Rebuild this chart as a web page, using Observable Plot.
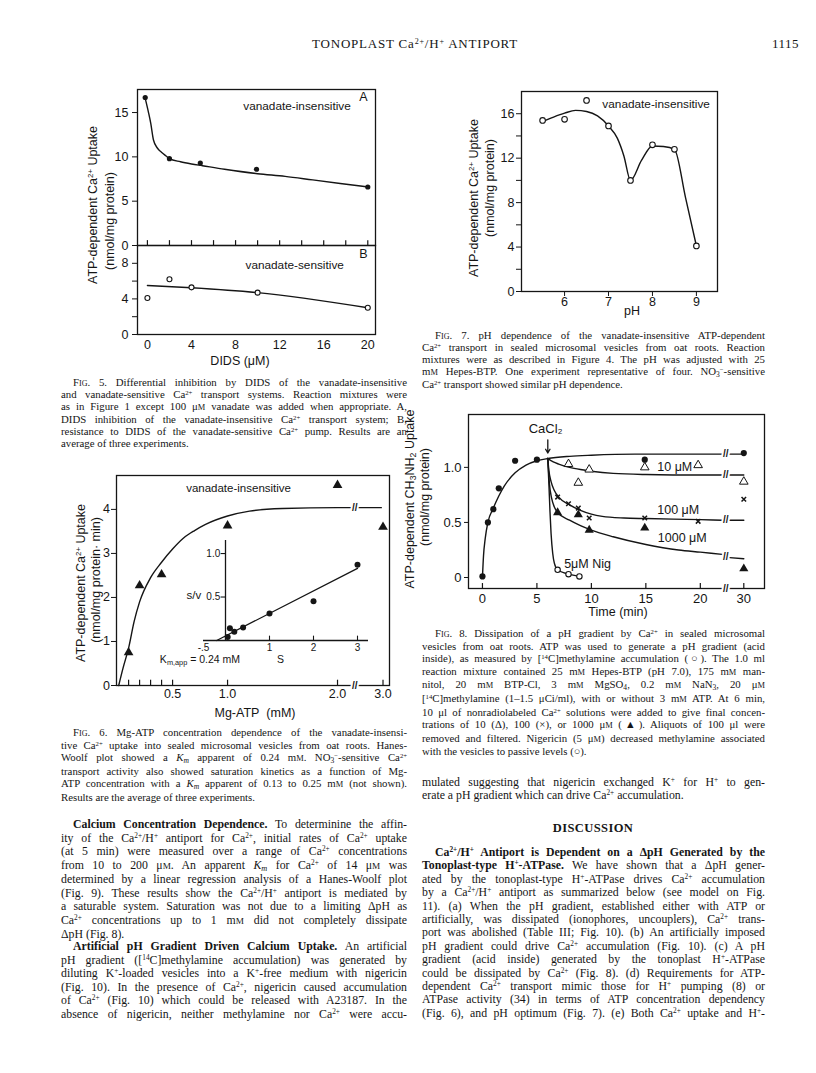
<!DOCTYPE html>
<html><head><meta charset="utf-8">
<script src="https://cdn.jsdelivr.net/npm/d3@7"></script>
<script src="https://cdn.jsdelivr.net/npm/@observablehq/plot@0.6"></script>
<style>
body{margin:0;background:#fff;}
#page{position:relative;width:816px;height:1073px;overflow:hidden;background:#fff;color:#151515;}
.serif{font-family:"Liberation Serif","Times New Roman",serif;}
.sans{font-family:"Liberation Sans",Arial,Helvetica,sans-serif;}
.blk{position:absolute;}
.j{text-align:justify;text-align-last:justify;}
.l{text-align:left;text-align-last:left;}
sup{font-size:0.62em;vertical-align:0.5em;line-height:0;}
sub{font-size:0.7em;vertical-align:-0.25em;line-height:0;}
.sc{font-size:0.78em;}
.fig{font-variant:small-caps;}
.rot{position:absolute;transform:translate(-50%,-50%) rotate(-90deg);white-space:nowrap;}
.ctr{position:absolute;transform:translate(-50%,-50%);white-space:nowrap;}
</style></head><body><div id="page"></div>
<script>
// ---------- DATA ----------
// Fig 5A: DIDS (µM) vs vanadate-insensitive uptake
const f5aPtsX = [-0.2, 2, 4.8, 9.9, 20];
const f5aPtsY = [16.7, 9.8, 9.3, 8.6, 6.6];
const f5aFitX = [-0.2, 0.1, 0.3, 0.55, 0.9, 1.3, 1.7, 2, 3, 4, 5, 7, 10, 12.5, 15, 17.5, 20];
const f5aFitY = [16.6, 15.0, 13.8, 11.9, 11.0, 10.5, 10.1, 9.8, 9.45, 9.2, 9.0, 8.6, 8.1, 7.8, 7.4, 7.0, 6.6];
// Fig 5B: vanadate-sensitive
const f5bPtsX = [0, 2, 4, 10, 20];
const f5bPtsY = [4.1, 6.2, 5.3, 4.7, 3.0];
const f5bFitX = [0, 4, 10, 20];
const f5bFitY = [5.5, 5.25, 4.7, 3.0];
const f5xTicks = [0, 2, 4, 6, 8, 10, 12, 14, 16, 18, 20];
const f5xLabels = [0, 4, 8, 12, 16, 20];
const f5aYTicks = [0, 5, 10, 15];
const f5bYTicks = [0, 2, 4, 6, 8];

// Fig 7: pH dependence
const f7PtsX = [5.5, 6, 6.5, 7, 7.5, 8, 8.5, 9];
const f7PtsY = [15.4, 15.5, 17.2, 14.9, 10.0, 13.2, 12.8, 4.1];
const f7FitX = [5.5, 5.75, 6, 6.25, 6.5, 6.75, 7, 7.2, 7.35, 7.5, 7.75, 8, 8.25, 8.5, 8.75, 9];
const f7FitY = [15.3, 15.7, 16.05, 16.3, 16.2, 15.8, 14.9, 13.8, 12.2, 10.0, 11.8, 13.1, 13.05, 12.8, 8.5, 4.1];
const f7XTicks = [6, 7, 8, 9];
const f7YTicks = [0, 2, 4, 6, 8, 10, 12, 14, 16];

// Fig 6: Mg-ATP (mM) vs uptake
const f6PtsX = [0.1, 0.2, 0.4, 1.0, 2.0, 3.0];
const f6PtsY = [0.75, 2.27, 2.52, 3.63, 4.55, 3.6];
const f6FitX = [0.01, 0.05, 0.1, 0.15, 0.2, 0.3, 0.4, 0.5, 0.6, 0.7, 0.8, 1.0, 1.2, 1.5, 2.0, 2.1, 2.25, 2.6, 2.95];
const f6FitY = [0, 0.4, 0.85, 1.45, 1.9, 2.45, 2.8, 3.1, 3.35, 3.52, 3.66, 3.85, 3.96, 4.02, 4.04, 4.04, 4.04, 4.04, 4.04];
const f6XTicks = [0.1, 0.2, 0.3, 0.4, 0.5, 1.0, 2.0, 3.0];
const f6XLabels = [0.5, 1.0, 2.0, 3.0];
const f6YTicks = [0, 1, 2, 3, 4];
// Fig 6 inset: Hanes-Woolf (S vs S/v)
const hwX = [0.05, 0.1, 0.2, 0.4, 1, 2, 3];
const hwY = [0.04, 0.14, 0.1, 0.15, 0.31, 0.45, 0.87];
const hwFitX = [-0.2, 3.0];
const hwFitY = [0, 0.83];
const hwXLabels = ["-.5", "1", "2", "3"];
const hwXLabelPos = [-0.5, 1, 2, 3];
const hwYLabels = ["0.5", "1.0"];
const hwYLabelPos = [0.5, 1.0];

// Fig 8: time (min) vs CH3NH2 uptake
const ctlX = [0, 0.5, 1, 1.5, 3, 5, 14.9, 30];
const ctlY = [0.01, 0.5, 0.62, 0.81, 1.06, 1.07, 1.07, 1.13];
const ctlFitX = [0, 0.1, 0.25, 0.5, 1, 1.5, 2, 3, 4, 5, 6, 8, 10, 14, 22, 28.7, 30];
const ctlFitY = [0, 0.2, 0.35, 0.5, 0.63, 0.74, 0.83, 0.95, 1.02, 1.06, 1.08, 1.1, 1.11, 1.12, 1.12, 1.12, 1.12];
const c10X = [7.9, 8.8, 9.8, 14.9, 19.8, 30];
const c10Y = [1.03, 0.86, 0.98, 1.0, 1.02, 0.87];
const c10FitX = [6, 6.5, 7, 8, 9, 10, 12, 15, 20, 22, 28.7, 30];
const c10FitY = [1.08, 1.05, 1.03, 1.0, 0.98, 0.965, 0.945, 0.935, 0.93, 0.93, 0.93, 0.93];
const c100X = [6.9, 7.9, 8.8, 9.8, 14.9, 19.8, 30];
const c100Y = [0.73, 0.67, 0.63, 0.54, 0.54, 0.51, 0.71];
const c100FitX = [6, 6.1, 6.3, 6.6, 7, 8, 9, 10, 11, 13, 15, 20, 22, 28.7, 30];
const c100FitY = [1.08, 0.97, 0.87, 0.79, 0.73, 0.66, 0.61, 0.575, 0.555, 0.54, 0.535, 0.525, 0.52, 0.52, 0.52];
const c1000X = [6.9, 8.8, 9.8, 14.9, 30];
const c1000Y = [0.59, 0.57, 0.43, 0.45, 0.08];
const c1000FitX = [6, 6.15, 6.35, 6.6, 6.9, 8, 9, 10, 12, 15, 18, 20, 22, 28.7, 30];
const c1000FitY = [1.08, 0.85, 0.72, 0.64, 0.59, 0.52, 0.47, 0.43, 0.37, 0.3, 0.25, 0.23, 0.21, 0.18, 0.17];
const nigX = [6.9, 7.9, 8.9];
const nigY = [0.07, 0.03, 0.01];
const nigFitX = [6, 6.1, 6.2, 6.3, 6.45, 6.6, 6.9, 7.9, 8.9];
const nigFitY = [1.08, 0.85, 0.6, 0.4, 0.22, 0.13, 0.07, 0.03, 0.01];
const f8XTicks = [0, 5, 10, 15, 20, 30];
const f8YTicks = [0, 0.5, 1.0];
const f8BreakYs = [-0.1, 1.12, 0.93, 0.52, 0.19];

// ---------- HELPERS ----------
const page = document.getElementById('page');
const SANS = '"Liberation Sans", Arial, Helvetica, sans-serif';
const INK = '#151515';
const zipXY = (xs, ys) => xs.map((x, i) => ({x, y: ys[i]}));
function put(node, left, top) {
  node.style.position = 'absolute';
  node.style.left = left + 'px';
  node.style.top = top + 'px';
  page.appendChild(node);
}
const st = fs => ({fontFamily: SANS, fontSize: fs + 'px', background: 'transparent', color: INK, overflow: 'visible'});
function html(cls, h, cx, cy, fs, extra = '') {
  const d = document.createElement('div');
  d.className = cls + ' sans';
  d.style.cssText += `left:${cx}px;top:${cy}px;font-size:${fs}px;${extra}`;
  d.innerHTML = h;
  page.appendChild(d);
}
function block(left, top, width, fs, lh, indent, lines, last) {
  const w = document.createElement('div');
  w.className = 'blk serif';
  w.style.cssText = `left:${left}px;top:${top}px;width:${width}px;font-size:${fs}px;line-height:${lh}px;`;
  const j = document.createElement('div');
  j.className = 'j';
  j.style.textIndent = indent + 'px';
  j.innerHTML = lines.join('<br>');
  w.appendChild(j);
  if (last) {
    const l = document.createElement('div');
    l.className = 'l';
    l.innerHTML = last;
    w.appendChild(l);
  }
  page.appendChild(w);
}
const txt = (s, o) => Plot.text([s], {text: d => d, ...o});
const brkMarks = (pts, fs) => [
  Plot.text(pts, {x: 'x', y: 'y', text: () => '//', fontSize: fs, fontWeight: 'bold', fill: 'white', stroke: 'white', strokeWidth: 4}),
  Plot.text(pts, {x: 'x', y: 'y', text: () => '//', fontSize: fs, fontWeight: 'bold', fill: INK})
];

// broken-axis mappings (value -> axis position units)
const b6 = v => v <= 2.15 ? v : 2.15 + (v - 2.15) * 0.3102;
const ub6 = u => u <= 2.15 ? u : 2.15 + (u - 2.15) / 0.3102;
const b8 = v => v <= 22.3 ? v : v < 28.4 ? 22.3 + (v - 22.3) * 0.0151 : v - 6.008;
const ub8 = u => u <= 22.3 ? u : u >= 22.392 ? u + 6.008 : 22.3 + (u - 22.3) / 0.0151;

// ---------- FIG 5A ----------
put(Plot.plot({
  width: 300, height: 170, marginLeft: 47, marginRight: 15, marginTop: 9, marginBottom: 5,
  style: st(12.5),
  x: {domain: [-0.9, 20.7], axis: null},
  y: {domain: [0, 17.6], ticks: f5aYTicks, tickFormat: d => String(d), tickSize: 5, tickPadding: 4, label: null},
  marks: [
    Plot.frame({stroke: INK, strokeWidth: 1.3}),
    Plot.ruleX(f5xTicks, {x: d => d, y1: 0, y2: 0.55, stroke: INK, strokeWidth: 1.2}),
    Plot.line(zipXY(f5aFitX, f5aFitY), {x: 'x', y: 'y', curve: 'monotone-x', stroke: INK, strokeWidth: 1.4}),
    Plot.dot(zipXY(f5aPtsX, f5aPtsY), {x: 'x', y: 'y', r: 2.6, fill: INK, stroke: 'none'}),
    txt('vanadate-insensitive', {x: 8.7, y: 15.7, textAnchor: 'start', fontSize: 11.8}),
    txt('A', {x: 19.6, y: 16.7, fontSize: 12.5})
  ]
}), 90, 80);

// ---------- FIG 5B ----------
put(Plot.plot({
  width: 300, height: 130, marginLeft: 47, marginRight: 15, marginTop: 5, marginBottom: 36,
  style: st(12.5),
  x: {domain: [-0.9, 20.7], ticks: f5xLabels, tickFormat: d => String(d), tickSize: 0, tickPadding: 6, label: null},
  y: {domain: [0, 10], ticks: f5bYTicks, tickFormat: d => d % 4 === 0 ? String(d) : '', tickSize: 5, tickPadding: 4, label: null},
  marks: [
    Plot.frame({stroke: INK, strokeWidth: 1.3}),
    Plot.line(zipXY(f5bFitX, f5bFitY), {x: 'x', y: 'y', curve: 'monotone-x', stroke: INK, strokeWidth: 1.4}),
    Plot.dot(zipXY(f5bPtsX, f5bPtsY), {x: 'x', y: 'y', r: 2.5, fill: 'white', stroke: INK, strokeWidth: 1.1}),
    txt('vanadate-sensitive', {x: 8.9, y: 7.75, textAnchor: 'start', fontSize: 11.8}),
    txt('B', {x: 19.6, y: 9.1, fontSize: 12.5})
  ]
}), 90, 240);
html('rot', 'ATP-dependent Ca<sup>2+</sup> Uptake', 93, 205, 12.5);
html('rot', '(nmol/mg protein)', 110, 221, 12.5);
html('ctr', 'DIDS (μM)', 240, 361, 12.5);

// ---------- FIG 7 ----------
put(Plot.plot({
  width: 260, height: 240, marginLeft: 41, marginRight: 23, marginTop: 11, marginBottom: 29,
  style: st(12.5),
  x: {domain: [5.02, 9.48], ticks: f7XTicks, tickFormat: d => String(d), tickSize: 5, tickPadding: 1, label: null},
  y: {domain: [0, 18], ticks: f7YTicks, tickFormat: d => d % 4 === 0 ? String(d) : '', tickSize: 5, tickPadding: 2, label: null},
  marks: [
    Plot.frame({stroke: INK, strokeWidth: 1.3}),
    Plot.line(zipXY(f7FitX, f7FitY), {x: 'x', y: 'y', curve: 'monotone-x', stroke: INK, strokeWidth: 1.4}),
    Plot.dot(zipXY(f7PtsX, f7PtsY), {x: 'x', y: 'y', r: 2.8, fill: 'white', stroke: INK, strokeWidth: 1.1}),
    txt('vanadate-insensitive', {x: 6.86, y: 16.9, textAnchor: 'start', fontSize: 11.8})
  ]
}), 480, 80);
html('rot', 'ATP-dependent Ca<sup>2+</sup> Uptake', 474, 198, 12.5);
html('rot', '(nmol/mg protein)', 490, 188, 12.5);
html('ctr', 'pH', 632, 311, 12.5);

// ---------- FIG 6 ----------
put(Plot.plot({
  width: 340, height: 245, marginLeft: 56, marginRight: 11, marginTop: 10, marginBottom: 25,
  style: st(12.5),
  x: {domain: [-0.01, 2.4727], ticks: f6XLabels.map(b6), tickFormat: u => (Math.round(ub6(u) * 10) / 10).toFixed(1), tickSize: 0, tickPadding: 4, label: null},
  y: {domain: [0, 4.77], ticks: f6YTicks, tickFormat: d => String(d), tickSize: 5, tickPadding: 1.5, label: null},
  marks: [
    Plot.frame({stroke: INK, strokeWidth: 1.3}),
    Plot.ruleX(f6XTicks, {x: d => b6(d), y1: 0, y2: 0.12, stroke: INK, strokeWidth: 1.2}),
    Plot.line(zipXY(f6FitX, f6FitY), {x: d => b6(d.x), y: 'y', curve: 'monotone-x', stroke: INK, strokeWidth: 1.4}),
    ...brkMarks([{x: b6(2.17), y: 4.04}, {x: b6(2.17), y: 0}], 10),
    Plot.dot(zipXY(f6PtsX, f6PtsY), {x: d => b6(d.x), y: 'y', symbol: 'triangle', r: 3.6, fill: INK, stroke: 'none'}),
    txt('vanadate-insensitive', {x: 1.1, y: 4.48, fontSize: 11.5})
  ]
}), 60, 465);
// inset
put(Plot.plot({
  width: 230, height: 140, marginLeft: 53, marginRight: 12, marginTop: 10, marginBottom: 30,
  style: st(11),
  x: {domain: [-0.5, 3.25], axis: null},
  y: {domain: [0, 1.15], axis: null},
  marks: [
    Plot.ruleY([0], {stroke: INK, strokeWidth: 1.3}),
    Plot.ruleX([0], {stroke: INK, strokeWidth: 1.3}),
    Plot.ruleY(hwYLabelPos, {y: d => d, x1: -0.1, x2: 0, stroke: INK, strokeWidth: 1.1}),
    Plot.ruleX([1, 2, 3], {x: d => d, y1: 0, y2: 0.05, stroke: INK, strokeWidth: 1.1}),
    Plot.text(hwXLabelPos, {x: d => d, y: -0.085, text: (d, i) => hwXLabels[i], fontSize: 10}),
    Plot.text(hwYLabelPos, {x: -0.12, y: d => d, text: (d, i) => hwYLabels[i], textAnchor: 'end', fontSize: 10}),
    Plot.line(zipXY(hwFitX, hwFitY), {x: 'x', y: 'y', stroke: INK, strokeWidth: 1.3}),
    Plot.dot(zipXY(hwX, hwY), {x: 'x', y: 'y', r: 3, fill: INK, stroke: 'none'}),
    txt('s/v', {x: -0.72, y: 0.52, fontSize: 11.5}),
    txt('S', {x: 1.25, y: -0.22, fontSize: 10.5})
  ]
}), 150, 530);
html('ctr', 'K<sub>m,app</sub> = 0.24 mM', 200, 659, 10.5);
html('rot', 'ATP-dependent Ca<sup>2+</sup> Uptake', 81, 583, 12.5);
html('rot', '(nmol/mg protein· min)', 95.5, 580, 12.5);
html('ctr', 'Mg-ATP&nbsp;&nbsp;(mM)', 255, 713, 12.5);

// ---------- FIG 8 ----------
const seg = d => d.x > 25 ? 'b' : 'a';
const fitLine = (xs, ys) => Plot.line(zipXY(xs, ys), {x: d => b8(d.x), y: 'y', z: seg, curve: 'monotone-x', stroke: INK, strokeWidth: 1.4});
put(Plot.plot({
  width: 340, height: 220, marginLeft: 38, marginRight: 6, marginTop: 9, marginBottom: 37,
  style: st(13),
  x: {domain: [-1.28, 25.892], ticks: f8XTicks.map(b8), tickFormat: u => String(Math.round(ub8(u))), tickSize: 0, tickPadding: 5, label: null},
  y: {domain: [-0.1, 1.48], ticks: f8YTicks, tickFormat: d => d === 0 ? '0' : d.toFixed(1), tickSize: 4, tickPadding: 3, label: null},
  marks: [
    Plot.frame({stroke: INK, strokeWidth: 1.3}),
    Plot.ruleX(f8XTicks, {x: d => b8(d), y1: -0.1, y2: -0.055, stroke: INK, strokeWidth: 1.2}),
    fitLine(ctlFitX, ctlFitY),
    fitLine(c10FitX, c10FitY),
    fitLine(c100FitX, c100FitY),
    fitLine(c1000FitX, c1000FitY),
    Plot.line(zipXY(nigFitX, nigFitY), {x: d => b8(d.x), y: 'y', curve: 'monotone-x', stroke: INK, strokeWidth: 1.4}),
    ...brkMarks(f8BreakYs.map(y => ({x: b8(25), y})), 10),
    Plot.dot(zipXY(ctlX, ctlY), {x: d => b8(d.x), y: 'y', r: 3.1, fill: INK, stroke: 'none'}),
    Plot.dot(zipXY(c10X, c10Y), {x: d => b8(d.x), y: 'y', symbol: 'triangle', r: 3.2, fill: 'white', stroke: INK, strokeWidth: 1}),
    Plot.dot(zipXY(c100X, c100Y), {x: d => b8(d.x), y: 'y', symbol: 'times', r: 2.2, stroke: INK, strokeWidth: 1.5}),
    Plot.dot(zipXY(c1000X, c1000Y), {x: d => b8(d.x), y: 'y', symbol: 'triangle', r: 3.4, fill: INK, stroke: 'none'}),
    Plot.dot(zipXY(nigX, nigY), {x: d => b8(d.x), y: 'y', r: 2.7, fill: 'white', stroke: INK, strokeWidth: 1.1}),
    Plot.arrow([0], {x1: 6, y1: 1.25, x2: 6, y2: 1.13, stroke: INK, strokeWidth: 1.3, headLength: 7}),
    txt('CaCl₂', {x: 5.8, y: 1.35, fontSize: 13}),
    txt('10 μM', {x: 16.05, y: 1.0, textAnchor: 'start', fontSize: 12.5}),
    txt('100 μM', {x: 16.05, y: 0.61, textAnchor: 'start', fontSize: 12.5}),
    txt('1000 μM', {x: 16.1, y: 0.355, textAnchor: 'start', fontSize: 12.5}),
    txt('5μM Nig', {x: 7.5, y: 0.12, textAnchor: 'start', fontSize: 12.5})
  ]
}), 430, 405);
html('rot', 'ATP-dependent CH<sub>3</sub>NH<sub>2</sub> Uptake', 410, 499, 12.5);
html('rot', '(nmol/mg protein)', 425, 497, 12.5);
html('ctr', 'Time (min)', 618, 612, 12.5);

// ---------- TEXT ----------
const mM = 'm<span class="sc">M</span>';
const uM = 'μ<span class="sc">M</span>';
const Ca = 'Ca<sup>2+</sup>';
const FIG = '<span class="fig">Fig</span>.';
html('blk', '<span class="serif" style="letter-spacing:0.8px">TONOPLAST ' + Ca + '/H<sup>+</sup> ANTIPORT</span>', 312, 36, 13);
html('blk', '<span class="serif" style="letter-spacing:0.5px">1115</span>', 772, 36, 13);

block(61, 377, 346, 10.8, 11.9, 12, [
  FIG + ' 5. Differential inhibition by DIDS of the vanadate-insensitive',
  'and vanadate-sensitive ' + Ca + ' transport systems. Reaction mixtures were',
  'as in Figure 1 except 100 ' + uM + ' vanadate was added when appropriate. A,',
  'DIDS inhibition of the vanadate-insensitive ' + Ca + ' transport system; B,',
  'resistance to DIDS of the vanadate-sensitive ' + Ca + ' pump. Results are an'
], 'average of three experiments.');

block(422, 329, 343, 10.8, 12, 13, [
  FIG + ' 7. pH dependence of the vanadate-insensitive ATP-dependent',
  Ca + ' transport in sealed microsomal vesicles from oat roots. Reaction',
  'mixtures were as described in Figure 4. The pH was adjusted with 25',
  mM + ' Hepes-BTP. One experiment representative of four. NO<sub>3</sub><sup>−</sup>-sensitive'
], Ca + ' transport showed similar pH dependence.');

block(61, 726, 346, 10.8, 12.6, 12, [
  FIG + ' 6. Mg-ATP concentration dependence of the vanadate-insensi-',
  'tive ' + Ca + ' uptake into sealed microsomal vesicles from oat roots. Hanes-',
  'Woolf plot showed a <i>K<sub>m</sub></i> apparent of 0.24 ' + mM + '. NO<sub>3</sub><sup>−</sup>-sensitive ' + Ca,
  'transport activity also showed saturation kinetics as a function of Mg-',
  'ATP concentration with a <i>K<sub>m</sub></i> apparent of 0.13 to 0.25 ' + mM + ' (not shown).'
], 'Results are the average of three experiments.');

block(422, 627, 343, 10.8, 12.6, 13, [
  FIG + ' 8. Dissipation of a pH gradient by ' + Ca + ' in sealed microsomal',
  'vesicles from oat roots. ATP was used to generate a pH gradient (acid',
  'inside), as measured by [<sup>14</sup>C]methylamine accumulation (○). The 1.0 ml',
  'reaction mixture contained 25 ' + mM + ' Hepes-BTP (pH 7.0), 175 ' + mM + ' man-',
  'nitol, 20 ' + mM + ' BTP-Cl, 3 ' + mM + ' MgSO<sub>4</sub>, 0.2 ' + mM + ' NaN<sub>3</sub>, 20 ' + uM,
  '[<sup>14</sup>C]methylamine (1–1.5 μCi/ml), with or without 3 ' + mM + ' ATP. At 6 min,',
  '10 μl of nonradiolabeled ' + Ca + ' solutions were added to give final concen-',
  'trations of 10 (Δ), 100 (×), or 1000 ' + uM + ' (▲). Aliquots of 100 μl were',
  'removed and filtered. Nigericin (5 ' + uM + ') decreased methylamine associated'
], 'with the vesicles to passive levels (○).');

block(61, 818, 346, 11.8, 13.5, 12, [
  '<b>Calcium Concentration Dependence.</b> To determinine the affin-',
  'ity of the ' + Ca + '/H<sup>+</sup> antiport for ' + Ca + ', initial rates of ' + Ca + ' uptake',
  '(at 5 min) were measured over a range of ' + Ca + ' concentrations',
  'from 10 to 200 ' + uM + '. An apparent <i>K<sub>m</sub></i> for ' + Ca + ' of 14 ' + uM + ' was',
  'determined by a linear regression analysis of a Hanes-Woolf plot',
  '(Fig. 9). These results show the ' + Ca + '/H<sup>+</sup> antiport is mediated by',
  'a saturable system. Saturation was not due to a limiting ΔpH as',
  Ca + ' concentrations up to 1 ' + mM + ' did not completely dissipate'
], 'ΔpH (Fig. 8).');

block(61, 940, 346, 11.8, 13.5, 12, [
  '<b>Artificial pH Gradient Driven Calcium Uptake.</b> An artificial',
  'pH gradient ([<sup>14</sup>C]methylamine accumulation) was generated by',
  'diluting K<sup>+</sup>-loaded vesicles into a K<sup>+</sup>-free medium with nigericin',
  '(Fig. 10). In the presence of ' + Ca + ', nigericin caused accumulation',
  'of ' + Ca + ' (Fig. 10) which could be released with A23187. In the',
  'absence of nigericin, neither methylamine nor ' + Ca + ' were accu-'
], null);

block(422, 776, 343, 11.8, 13.3, 0, [
  'mulated suggesting that nigericin exchanged K<sup>+</sup> for H<sup>+</sup> to gen-'
], 'erate a pH gradient which can drive ' + Ca + ' accumulation.');

html('ctr', '<b class="serif" style="letter-spacing:0.4px">DISCUSSION</b>', 593, 828, 12.5);

block(422, 846, 343, 11.8, 13.4, 13, [
  '<b>' + Ca + '/H<sup>+</sup> Antiport is Dependent on a ΔpH Generated by the</b>',
  '<b>Tonoplast-type H<sup>+</sup>-ATPase.</b> We have shown that a ΔpH gener-',
  'ated by the tonoplast-type H<sup>+</sup>-ATPase drives ' + Ca + ' accumulation',
  'by a ' + Ca + '/H<sup>+</sup> antiport as summarized below (see model on Fig.',
  '11). (a) When the pH gradient, established either with ATP or',
  'artificially, was dissipated (ionophores, uncouplers), ' + Ca + ' trans-',
  'port was abolished (Table III; Fig. 10). (b) An artificially imposed',
  'pH gradient could drive ' + Ca + ' accumulation (Fig. 10). (c) A pH',
  'gradient (acid inside) generated by the tonoplast H<sup>+</sup>-ATPase',
  'could be dissipated by ' + Ca + ' (Fig. 8). (d) Requirements for ATP-',
  'dependent ' + Ca + ' transport mimic those for H<sup>+</sup> pumping (8) or',
  'ATPase activity (34) in terms of ATP concentration dependency',
  '(Fig. 6), and pH optimum (Fig. 7). (e) Both ' + Ca + ' uptake and H<sup>+</sup>-'
], null);
</script>
</body></html>
